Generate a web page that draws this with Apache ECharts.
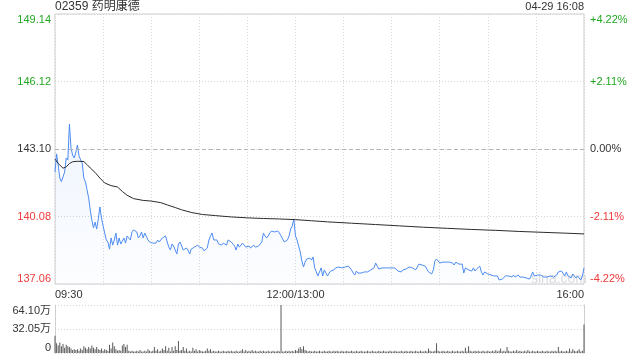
<!DOCTYPE html>
<html><head><meta charset="utf-8">
<script src="https://cdn.jsdelivr.net/npm/echarts@6/dist/echarts.min.js"></script>
<style>html,body{margin:0;padding:0;background:#fff}#c{width:640px;height:360px}</style>
</head><body><div id="c"></div>
<script>
const stockTitle = '02359 药明康德';
const stampText = '04-29 16:08';
const prevClose = 143.10;
const priceMin = 137.06, priceMax = 149.14, priceStep = 3.02;
const pctMin = -4.22, pctMax = 4.22, pctStep = 2.11;
const volMax = 64.10, volStep = 32.05;
const timeTickMinutes = [0, 150, 330];
const timeTickLabels = ['09:30', '12:00/13:00', '16:00'];

// one price per minute: 0 = 09:30 ... 150 = 12:00/13:00 ... 330 = 16:00
const prices = [
142.07,142.88,142.38,141.80,141.64,141.67,142.07,142.70,142.61,144.22,
143.14,142.83,142.70,142.97,143.28,142.79,142.61,142.47,141.80,141.62,
141.27,140.91,140.37,139.92,139.57,139.83,139.52,139.97,140.51,140.01,
139.66,139.34,139.03,138.94,138.62,139.12,138.80,139.03,139.34,138.80,
139.12,138.85,138.98,139.12,138.89,139.21,139.12,139.03,139.39,139.48,
139.48,139.39,139.12,139.21,139.39,139.12,139.34,139.30,139.03,138.94,
138.89,138.89,138.85,138.89,139.03,138.94,138.98,139.12,139.16,139.21,
138.94,138.71,138.58,138.85,138.76,138.58,138.40,138.85,138.94,138.76,
138.58,138.62,138.67,138.58,138.40,138.62,138.67,138.71,138.76,138.80,
138.71,138.71,138.67,138.54,138.58,138.67,139.03,139.21,139.34,139.03,
139.07,139.03,138.85,138.80,138.80,138.89,138.89,138.80,139.03,139.07,
138.94,138.85,138.76,138.58,138.85,138.71,138.80,138.89,138.80,138.71,
138.67,138.76,138.67,138.67,138.80,138.71,138.71,138.76,138.85,138.94,
139.34,139.21,139.12,139.21,139.34,139.43,139.43,139.39,139.43,139.43,
139.34,139.21,139.07,138.94,138.94,139.03,139.21,139.52,139.66,139.97,139.21,
139.03,138.98,138.49,138.09,137.82,138.04,138.18,138.13,138.22,138.13,
138.27,137.78,137.60,137.42,137.60,137.78,137.42,137.69,137.55,137.42,
137.55,137.64,137.60,137.69,137.78,137.73,137.82,137.82,137.78,137.82,
137.82,137.86,137.86,137.78,137.69,137.55,137.46,137.64,137.55,137.60,
137.55,137.60,137.60,137.55,137.60,137.64,137.69,137.69,137.78,138.00,
137.86,137.73,137.69,137.78,137.82,137.78,137.73,137.78,137.78,137.78,
137.73,137.78,137.73,137.64,137.64,137.60,137.69,137.64,137.73,137.78,
137.82,137.82,137.78,137.73,137.69,137.82,137.95,137.91,137.91,137.91,
137.86,137.78,137.60,137.55,137.51,137.69,138.09,138.18,138.09,138.00,
137.95,138.04,138.09,138.04,138.04,138.04,138.09,138.00,137.91,138.04,
138.00,137.95,137.91,137.95,137.55,137.78,137.73,137.69,137.73,137.64,
137.78,137.64,137.73,137.78,137.86,137.60,137.46,137.60,137.55,137.51,
137.55,137.46,137.46,137.42,137.37,137.42,137.24,137.19,137.28,137.24,
137.42,137.37,137.42,137.46,137.37,137.46,137.37,137.42,137.46,137.37,
137.33,137.37,137.33,137.33,137.28,137.28,137.42,137.60,137.42,137.42,
137.46,137.51,137.46,137.42,137.37,137.42,137.37,137.33,137.42,137.42,
137.37,137.37,137.46,137.60,137.64,137.64,137.60,137.42,137.60,137.42,
137.37,137.33,137.51,137.51,137.33,137.42,137.37,137.24,137.42,137.78
];

const avgMinutes = [0,2,5,7,9,11,14,18,20,22,25,28,31,35,39,42,45,49,55,60,66,70,75,79,85,92,100,110,120,130,140,150,160,170,185,200,215,230,245,260,275,290,305,320,330];
const avgPrices  = [142.65,142.45,142.24,142.30,142.45,142.53,142.55,142.54,142.40,142.25,142.05,141.80,141.58,141.46,141.40,141.20,141.03,140.88,140.80,140.77,140.70,140.60,140.48,140.38,140.26,140.17,140.12,140.06,140.02,139.99,139.97,139.94,139.89,139.84,139.78,139.72,139.66,139.60,139.55,139.50,139.46,139.41,139.37,139.33,139.30];

// volume per minute, in 万
const volumes = [
23,13,10,14,9,12,7,11,9,8,
6,4,5,4,5,3,6,4,9,7,
5,8,6,10,7,5,8,5,4,6,
3,5,4,3,11,6,14,9,5,3,
4,3,10,12,8,11,3,2,3,2,
2,3,2,4,2,2,3,2,5,3,
2,3,8,3,5,2,3,6,4,9,
3,7,2,8,3,9,4,16,3,4,
8,3,6,2,3,2,7,3,5,2,
4,3,2,2,3,6,3,5,2,3,
2,2,3,2,2,3,2,2,3,2,
3,2,2,3,2,2,3,5,2,4,
2,3,2,4,2,3,2,2,3,2,
3,2,2,3,2,2,3,2,2,3,
2,64.10,2,2,3,2,3,2,3,2,4,
3,6,8,5,9,4,3,2,3,2,
2,3,2,2,3,2,2,3,2,2,
3,2,2,3,2,3,2,2,3,2,
2,3,2,2,3,2,2,3,2,2,
3,2,2,2,3,2,2,3,2,2,
2,3,2,2,3,2,2,2,3,2,
2,3,2,2,2,3,2,2,3,2,
2,3,2,2,3,2,2,3,2,2,
3,2,6,3,2,2,3,13,3,2,
2,3,2,2,3,2,2,3,2,2,
3,2,2,3,2,7,2,9,3,2,
2,3,2,3,2,2,3,2,2,3,
2,2,3,2,4,2,3,6,2,3,
2,8,3,2,2,3,2,4,2,3,
2,2,3,2,4,2,2,3,2,2,
3,2,2,3,2,2,3,2,2,3,
2,3,2,8,2,3,2,2,3,2,
6,2,5,3,2,3,5,2,3,38
];

const GREEN = '#22a822', RED = '#ee3a3a', DARK = '#333';
const FONT = '"Liberation Sans", Arial, "Noto Sans CJK SC", sans-serif';

const chart = echarts.init(document.getElementById('c'), null, {renderer: 'canvas'});
const lastMin = prices.length - 1;

chart.setOption({
  animation: false,
  textStyle: {fontFamily: FONT},
  graphic: [
    {type: 'text', left: 55, top: 1, style: {text: stockTitle, font: '12px ' + FONT, fill: DARK}},
    {type: 'text', right: 56, top: 1, style: {text: stampText, font: '11px ' + FONT, fill: DARK}},
    {type: 'text', left: 531, top: 272, z: 0, style: {text: 'sina.com', font: '14px ' + FONT, fill: '#dedede'}}
  ],
  grid: [
    {left: 55, right: 56, top: 14, height: 270, show: true, borderColor: '#cfcfcf', borderWidth: 1},
    {left: 55, right: 56, top: 305, height: 48}
  ],
  xAxis: [
    {
      type: 'value', gridIndex: 0, min: 0, max: lastMin, interval: 30,
      axisLine: {show: false}, axisTick: {show: false},
      splitLine: {show: true, lineStyle: {color: '#d6d6d6', type: [1, 2]}},
      axisLabel: {
        show: true, margin: 5, fontSize: 11, color: DARK, fontFamily: FONT,
        alignMinLabel: 'left', alignMaxLabel: 'right', hideOverlap: false,
        formatter: v => { const k = timeTickMinutes.indexOf(Math.round(v)); return k >= 0 ? timeTickLabels[k] : ''; }
      }
    },
    {
      type: 'value', gridIndex: 1, min: 0, max: lastMin, interval: 30,
      axisLine: {show: false}, axisTick: {show: false}, axisLabel: {show: false},
      splitLine: {show: false}
    }
  ],
  yAxis: [
    {
      type: 'value', gridIndex: 0, min: priceMin, max: priceMax, interval: priceStep,
      axisLine: {show: false}, axisTick: {show: false},
      splitLine: {show: true, lineStyle: {color: '#d6d6d6', type: [1, 2]}},
      axisLabel: {
        margin: 4, fontSize: 11, fontFamily: FONT,
        verticalAlignMinLabel: 'bottom', verticalAlignMaxLabel: 'top',
        formatter: v => Number(v).toFixed(2),
        color: v => { const d = Number(v) - prevClose; return Math.abs(d) < 0.005 ? DARK : (d > 0 ? GREEN : RED); }
      }
    },
    {
      type: 'value', gridIndex: 0, position: 'right', min: pctMin, max: pctMax, interval: pctStep,
      axisLine: {show: false}, axisTick: {show: false}, splitLine: {show: false},
      axisLabel: {
        margin: 6, fontSize: 11, fontFamily: FONT,
        verticalAlignMinLabel: 'bottom', verticalAlignMaxLabel: 'top',
        formatter: v => { const n = Number(v); return (n > 0.001 ? '+' : '') + n.toFixed(2) + '%'; },
        color: v => { const n = Number(v); return Math.abs(n) < 0.001 ? DARK : (n > 0 ? GREEN : RED); }
      }
    },
    {
      type: 'value', gridIndex: 1, min: 0, max: volMax, interval: volStep,
      axisLine: {show: true, lineStyle: {color: '#cfcfcf'}}, axisTick: {show: false},
      splitLine: {show: true, lineStyle: {color: '#d6d6d6', type: [1, 2]}},
      axisLabel: {
        margin: 4, fontSize: 11, color: DARK, fontFamily: FONT,
        verticalAlignMinLabel: 'bottom', verticalAlignMaxLabel: 'top',
        formatter: v => { const n = Number(v); return n === 0 ? '0' : n.toFixed(2) + '万'; }
      }
    },
    {
      type: 'value', gridIndex: 1, position: 'right', min: 0, max: volMax, interval: volStep,
      axisLine: {show: true, lineStyle: {color: '#cfcfcf'}}, axisTick: {show: false},
      axisLabel: {show: false}, splitLine: {show: false}
    }
  ],
  series: [
    {
      type: 'line', xAxisIndex: 0, yAxisIndex: 0, showSymbol: false, z: 3,
      data: prices.map((p, i) => [i, p]),
      lineStyle: {color: '#4d8cf2', width: 1},
      areaStyle: {color: new echarts.graphic.LinearGradient(0, 0, 0, 1, [
        {offset: 0, color: 'rgba(77,140,242,0.13)'},
        {offset: 1, color: 'rgba(77,140,242,0.02)'}
      ])},
      markLine: {
        silent: true, symbol: 'none', label: {show: false},
        lineStyle: {color: '#b5b5b5', type: [4, 3], width: 1},
        data: [{yAxis: prevClose}]
      }
    },
    {
      type: 'line', xAxisIndex: 0, yAxisIndex: 0, showSymbol: false, z: 4,
      data: avgMinutes.map((m, i) => [m, avgPrices[i]]),
      lineStyle: {color: '#2b2b2b', width: 1}
    },
    {
      type: 'bar', xAxisIndex: 1, yAxisIndex: 2, barWidth: 1,
      data: volumes.map((v, i) => [i, v]),
      itemStyle: {color: '#5a5a5a'}
    }
  ]
});
</script>
</body></html>
